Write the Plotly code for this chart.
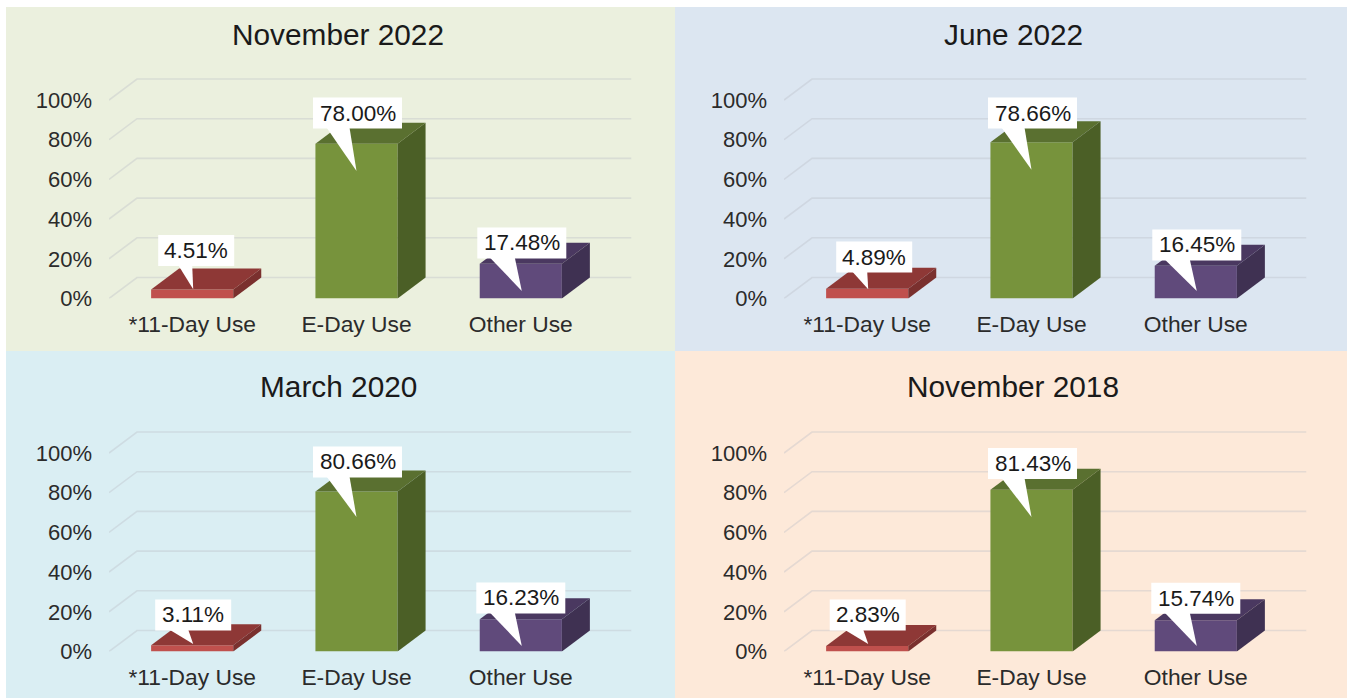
import plotly.graph_objects as go

categories = ["*11-Day Use", "E-Day Use", "Other Use"]
panel_titles = ["November 2022", "June 2022", "March 2020", "November 2018"]
values_nov_2022 = [4.51, 78.00, 17.48]
values_jun_2022 = [4.89, 78.66, 16.45]
values_mar_2020 = [3.11, 80.66, 16.23]
values_nov_2018 = [2.83, 81.43, 15.74]
panel_values = [values_nov_2022, values_jun_2022, values_mar_2020, values_nov_2018]
y_ticks = [0, 20, 40, 60, 80, 100]
y_tick_labels = ["0%", "20%", "40%", "60%", "80%", "100%"]

W, H = 1349, 698
FONT = "Liberation Sans"
TEXT = "#2b2b2b"
FRONT = ["#c0504d", "#77933c", "#604a7b"]
TOP = ["#8e3836", "#5a7030", "#4a3860"]
SIDE = ["#7a302e", "#4b5f26", "#3f3152"]
BG = ["#ebf0de", "#dce6f1", "#daeef3", "#fde9d9"]
GRID = "rgba(185,188,198,0.36)"

# pixel geometry of the first panel; the others are translated copies
PX_LEFT, PX_RIGHT, PX_BASE = 109, 631.5, 298.5
PX_TOP = 74
PX_PER_CAT, PX_PER_PCT = 164.3, 1.985
PX_CAT0 = 192.2
DEPTH_X = 28 / PX_PER_CAT
DEPTH_Y = 21 / PX_PER_PCT
BAR_W = 0.5
PANEL_RECT = [(6, 7, 675, 351), (675, 7, 1347, 351), (6, 351, 675, 698), (675, 351, 1347, 698)]
PANEL_DX = [0, 675, 0, 675]
PANEL_DY = [0, 0, 353, 353]
TITLE_X = [338, 1013, 338, 1013]
TITLE_Y = [34, 34, 386, 386]

# callout placement (label centre height in %, horizontal shift in px, pointer tip in %)
LABEL_Y = [[24.2, 93.4, 28.0], [20.9, 93.4, 27.0], [18.4, 95.5, 27.0], [18.4, 94.7, 26.8]]
LABEL_SHIFT = [[4, 1, 1], [7, 1, 1], [1, 1, 0], [0.5, 1, 0]]
TIP_Y = [[4.7, 64.2, 3.8], [4.7, 64.9, 3.8], [3.8, 67.8, 2.8], [3.8, 67.8, 2.8]]
BASE_PX = [
    [(-15, -1), (-30, -7), (-32, -7)],
    [(-16, -1), (-30, -7), (-32, -7)],
    [(-24, -5), (-30, -7), (-32, -7)],
    [(-24, -5), (-30, -7), (-32, -7)],
]

fig = go.Figure()
shapes, annotations = [], []

for p, vals in enumerate(panel_values):
    sfx = "" if p == 0 else str(p + 1)
    xa, ya = "x" + sfx, "y" + sfx
    dx, dy = PANEL_DX[p], PANEL_DY[p]
    x0, y0, x1, y1 = PANEL_RECT[p]
    shapes.append(dict(type="rect", xref="paper", yref="paper", x0=x0 / W, x1=x1 / W,
                       y0=1 - y1 / H, y1=1 - y0 / H, fillcolor=BG[p], line_width=0, layer="below"))
    xr = [(PX_LEFT - PX_CAT0) / PX_PER_CAT, (PX_RIGHT - PX_CAT0) / PX_PER_CAT]
    yr = [0, (PX_BASE - PX_TOP) / PX_PER_PCT]
    fig.layout["xaxis" + sfx] = dict(
        domain=[(PX_LEFT + dx) / W, (PX_RIGHT + dx) / W], range=xr, anchor=ya, showgrid=False,
        zeroline=False, showline=False, tickmode="array", tickvals=[0, 1, 2], ticktext=categories,
        ticks="", ticklabelstandoff=10, automargin=False,
        tickfont=dict(family=FONT, size=22.8, color=TEXT), fixedrange=True)
    fig.layout["yaxis" + sfx] = dict(
        domain=[1 - (PX_BASE + dy) / H, 1 - (PX_TOP + dy) / H], range=yr, anchor=xa, showgrid=False,
        zeroline=False, showline=False, tickmode="array", tickvals=y_ticks, ticktext=y_tick_labels,
        ticks="", ticklabelstandoff=16, automargin=False,
        tickfont=dict(family=FONT, size=22, color=TEXT), fixedrange=True)

    # gridlines running along the floor/back wall
    for t in y_ticks:
        back = t + DEPTH_Y
        shapes.append(dict(type="path", xref=xa, yref=ya, layer="below",
                           path=f"M{xr[0]},{t} L{xr[0] + DEPTH_X},{back} L{xr[1]},{back}",
                           line=dict(color=GRID, width=1.6)))

    fig.add_trace(go.Bar(x=[0, 1, 2], y=vals, width=BAR_W, marker=dict(color=FRONT, line_width=0),
                         xaxis=xa, yaxis=ya, hoverinfo="skip", showlegend=False))

    for i, v in enumerate(vals):
        L, R = i - BAR_W / 2, i + BAR_W / 2
        fig.add_trace(go.Scatter(x=[L, L + DEPTH_X, R + DEPTH_X, R, L], y=[v, v + DEPTH_Y, v + DEPTH_Y, v, v],
                                 fill="toself", fillcolor=TOP[i], mode="none", xaxis=xa, yaxis=ya,
                                 hoverinfo="skip", showlegend=False))
        fig.add_trace(go.Scatter(x=[R, R + DEPTH_X, R + DEPTH_X, R, R], y=[0, DEPTH_Y, v + DEPTH_Y, v, 0],
                                 fill="toself", fillcolor=SIDE[i], mode="none", xaxis=xa, yaxis=ya,
                                 hoverinfo="skip", showlegend=False))

        # callout: white box, pointer and label text
        cx = i + LABEL_SHIFT[p][i] / PX_PER_CAT
        cy = LABEL_Y[p][i]
        half_w = (38 if v < 10 else 44.5) / PX_PER_CAT
        half_h = 15.5 / PX_PER_PCT
        tip_x = i + (1 if i != 1 else 0) / PX_PER_CAT
        b0, b1 = BASE_PX[p][i]
        base_y = cy - half_h + 0.5
        fig.add_trace(go.Scatter(x=[tip_x + b0 / PX_PER_CAT, tip_x + b1 / PX_PER_CAT, tip_x],
                                 y=[base_y, base_y, TIP_Y[p][i]],
                                 fill="toself", fillcolor="white", mode="none", xaxis=xa, yaxis=ya,
                                 hoverinfo="skip", showlegend=False))
        shapes.append(dict(type="rect", xref=xa, yref=ya, layer="above", x0=cx - half_w, x1=cx + half_w,
                           y0=cy - half_h, y1=cy + half_h, fillcolor="white", line_width=0))
        annotations.append(dict(x=cx, y=cy, xref=xa, yref=ya, text=f"{v:.2f}%", showarrow=False,
                                xanchor="center", yanchor="middle",
                                font=dict(family=FONT, size=22.5, color="#1a1a1a")))

    annotations.append(dict(x=TITLE_X[p] / W, y=1 - TITLE_Y[p] / H, xref="paper", yref="paper",
                            text=panel_titles[p], showarrow=False, xanchor="center", yanchor="middle",
                            font=dict(family=FONT, size=29.8, color="#1a1a1a")))

fig.update_layout(width=W, height=H, margin=dict(l=0, r=0, t=0, b=0), autosize=False,
                  paper_bgcolor="white", plot_bgcolor="rgba(0,0,0,0)", shapes=shapes,
                  annotations=annotations, showlegend=False, barmode="overlay")
fig.write_html("out.html", config={"displayModeBar": False, "responsive": False},
               post_script="document.body.style.margin='0';document.documentElement.style.overflow='hidden';")
